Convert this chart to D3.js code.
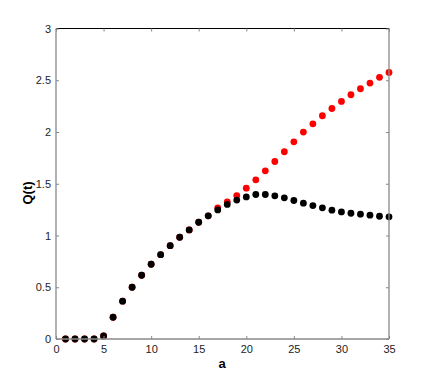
<!DOCTYPE html>
<html>
<head>
<meta charset="utf-8">
<script src="https://cdn.jsdelivr.net/npm/d3@7"></script>
<style>
  body { margin: 0; background: #fff; }
  text { font-family: "Liberation Sans", Arial, sans-serif; }
</style>
</head>
<body>
<script>
    var aValues = d3.range(1, 36);

    // black series (drawn on top)
    var blackQ = [0, 0, 0, 0, 0.03, 0.21, 0.365, 0.50, 0.616, 0.722,
        0.815, 0.902, 0.983, 1.054, 1.128, 1.19, 1.247, 1.30, 1.342, 1.373,
        1.396, 1.396, 1.383, 1.364, 1.338, 1.312, 1.289, 1.267, 1.245, 1.228,
        1.215, 1.206, 1.196, 1.186, 1.18];

    // red series (underneath)
    var redQ = [0, 0, 0, 0, 0.03, 0.21, 0.365, 0.50, 0.616, 0.722,
        0.815, 0.902, 0.983, 1.054, 1.128, 1.19, 1.267, 1.325, 1.386, 1.457,
        1.538, 1.625, 1.715, 1.809, 1.905, 1.999, 2.079, 2.157, 2.227, 2.295,
        2.36, 2.418, 2.473, 2.528, 2.576];

    var xTicks = [0, 5, 10, 15, 20, 25, 30, 35];
    var yTicks = [0, 0.5, 1, 1.5, 2, 2.5, 3];

(function(){
    var width = 429, height = 381;
    var mLeft = 56, mRight = 389, mTop = 28.5, mBottom = 339;

    var svg = d3.select("body")
        .append("svg")
        .attr("width", width)
        .attr("height", height);

    var x = d3.scaleLinear().domain([0, 35]).range([mLeft, mRight]);
    var y = d3.scaleLinear().domain([0, 3]).range([mBottom, mTop]);

    // points
    svg.selectAll(".red")
        .data(aValues)
        .enter()
        .append("circle")
        .attr("class", "red")
        .attr("cx", function(d){ return x(d); })
        .attr("cy", function(d, i){ return y(redQ[i]); })
        .attr("r", 3.4)
        .attr("fill", "#ff0000");

    svg.selectAll(".black")
        .data(aValues)
        .enter()
        .append("circle")
        .attr("class", "black")
        .attr("cx", function(d){ return x(d); })
        .attr("cy", function(d, i){ return y(blackQ[i]); })
        .attr("r", 3.4)
        .attr("fill", "#000");

    // box
    svg.append("line").attr("x1", mLeft).attr("x2", mRight).attr("y1", mTop).attr("y2", mTop)
        .attr("stroke", "#000").attr("stroke-width", 1);
    svg.append("line").attr("x1", mLeft).attr("x2", mLeft).attr("y1", mTop).attr("y2", mBottom)
        .attr("stroke", "#888").attr("stroke-width", 1.3);
    svg.append("line").attr("x1", mRight).attr("x2", mRight).attr("y1", mTop).attr("y2", mBottom)
        .attr("stroke", "#888").attr("stroke-width", 1.3);
    svg.append("line").attr("x1", mLeft).attr("x2", mRight).attr("y1", mBottom).attr("y2", mBottom)
        .attr("stroke", "#888").attr("stroke-width", 1.3);

    // bottom axis
    svg.append("g")
        .attr("transform", "translate(0," + mBottom + ")")
        .call(d3.axisBottom(x).tickValues(xTicks).tickSize(-3).tickPadding(6).tickFormat(d3.format("d")));
    // top ticks
    svg.append("g")
        .attr("transform", "translate(0," + mTop + ")")
        .call(d3.axisTop(x).tickValues(xTicks).tickSize(-3).tickFormat(""));

    svg.append("g")
        .attr("transform", "translate(" + mLeft + ",0)")
        .call(d3.axisLeft(y).tickValues(yTicks).tickSize(-3).tickPadding(5).tickFormat(function(d){ return d; }));
    svg.append("g")
        .attr("transform", "translate(" + mRight + ",0)")
        .call(d3.axisRight(y).tickValues(yTicks).tickSize(-3).tickFormat(""));

    svg.selectAll(".domain").remove();
    svg.selectAll(".tick line").attr("stroke", "#888");
    svg.selectAll(".tick text")
        .attr("fill", "#222")
        .style("font-size", "11px")
        .style("font-family", "'Liberation Sans', Arial, sans-serif");

    // axis labels
    svg.append("text")
        .attr("x", 222)
        .attr("y", 368)
        .attr("text-anchor", "middle")
        .style("font-size", "13px")
        .style("font-weight", "bold")
        .text("a");

    svg.append("text")
        .attr("transform", "translate(32,193) rotate(-90)")
        .attr("text-anchor", "middle")
        .style("font-size", "13px")
        .style("font-weight", "bold")
        .text("Q(t)");
})();
</script>
</body>
</html>
